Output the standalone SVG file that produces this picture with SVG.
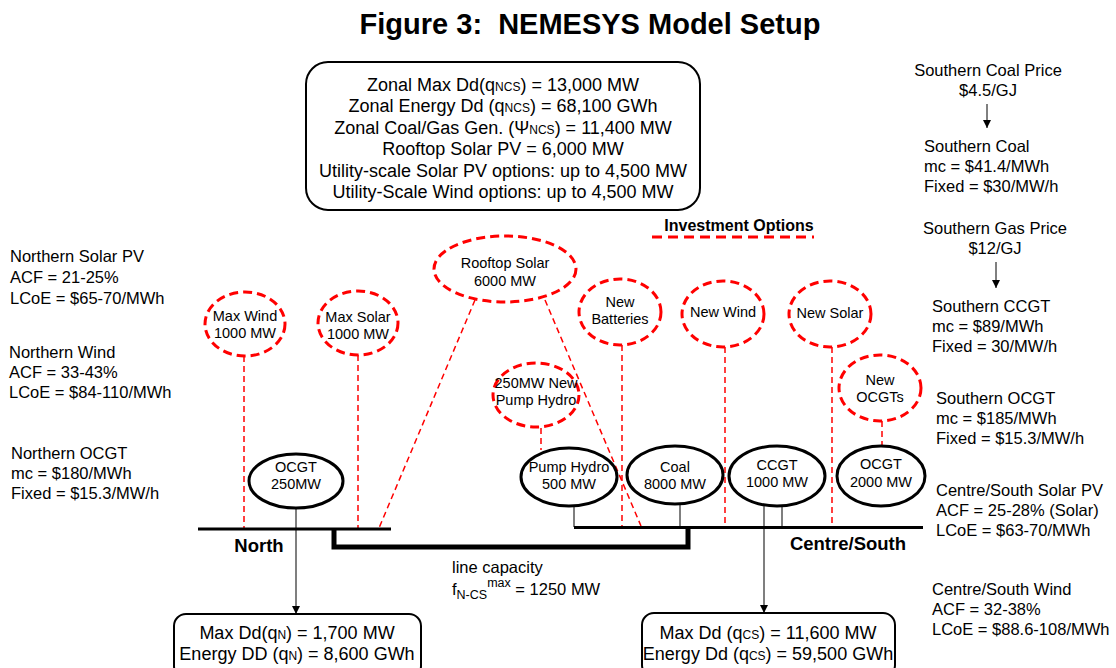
<svg xmlns="http://www.w3.org/2000/svg" width="1116" height="668" viewBox="0 0 1116 668">
  <style>
    text { font-family: "Liberation Sans", Arial, Helvetica, sans-serif; fill: #000; }
    .title { font-size: 29px; font-weight: bold; text-anchor: middle; }
    .side { font-size: 16.5px; }
    .sidec { font-size: 16.5px; text-anchor: middle; }
    .box { font-size: 18px; text-anchor: middle; }
    .lbl { font-size: 14.5px; text-anchor: middle; }
    .zone { font-size: 18.5px; font-weight: bold; text-anchor: middle; }
    .inv { fill: #fff; stroke: #f00; stroke-width: 3; stroke-dasharray: 9 5; }
    .gen { fill: #fff; stroke: #000; stroke-width: 3; }
    .rd { fill: none; stroke: #f00; stroke-width: 1.5; stroke-dasharray: 6 4; }
    .stem { fill: none; stroke: #555; stroke-width: 1.5; }
    .bus { fill: none; stroke: #000; stroke-width: 3; }
    .link { fill: none; stroke: #000; stroke-width: 5; }
    .frame { fill: #fff; stroke: #000; stroke-width: 2; }
    .thin { fill: none; stroke: #000; stroke-width: 1; }
  </style>
  <defs>
    <marker id="ah" markerUnits="userSpaceOnUse" markerWidth="8" markerHeight="8" refX="8" refY="4" orient="auto">
      <path d="M0,0 L8,4 L0,8 z" fill="#000"/>
    </marker>
  </defs>

  <rect width="1116" height="668" fill="#fff"/>

  <text class="title" x="590" y="34">Figure 3:&#160; NEMESYS Model Setup</text>

  <!-- zonal summary -->
  <g id="zonal-summary">
    <rect class="frame" x="306" y="62" width="394" height="148" rx="22"/>
    <text class="box" x="503" y="90.5">Zonal Max Dd(q<tspan font-size="12">NCS</tspan>) = 13,000 MW</text>
    <text class="box" x="503" y="112">Zonal Energy Dd (q<tspan font-size="12">NCS</tspan>) = 68,100 GWh</text>
    <text class="box" x="503" y="133.5">Zonal Coal/Gas Gen. (Ψ<tspan font-size="12">NCS</tspan>) = 11,400 MW</text>
    <text class="box" x="503" y="155">Rooftop Solar PV = 6,000 MW</text>
    <text class="box" x="503" y="176.5">Utility-scale Solar PV options: up to 4,500 MW</text>
    <text class="box" x="503" y="198">Utility-Scale Wind options: up to 4,500 MW</text>
  </g>

  <!-- legend -->
  <g id="legend">
    <text x="739" y="231" font-size="16px" font-weight="bold" text-anchor="middle">Investment Options</text>
    <line x1="652" y1="237" x2="814" y2="237" stroke="#f00" stroke-width="3" stroke-dasharray="10 6"/>
  </g>

  <!-- cost notes, north -->
  <g id="north-notes">
    <text class="side" x="10" y="262">Northern Solar PV</text>
    <text class="side" x="10" y="283">ACF = 21-25%</text>
    <text class="side" x="10" y="304">LCoE = $65-70/MWh</text>
    <text class="side" x="9" y="358">Northern Wind</text>
    <text class="side" x="9" y="378">ACF = 33-43%</text>
    <text class="side" x="9" y="398">LCoE = $84-110/MWh</text>
    <text class="side" x="11" y="459">Northern OCGT</text>
    <text class="side" x="11" y="479">mc = $180/MWh</text>
    <text class="side" x="11" y="499">Fixed = $15.3/MW/h</text>
  </g>

  <!-- cost notes, south -->
  <g id="south-notes">
    <text class="sidec" x="988" y="76">Southern Coal Price</text>
    <text class="sidec" x="988" y="96">$4.5/GJ</text>
    <line class="thin" x1="987" y1="104" x2="987" y2="128" marker-end="url(#ah)"/>
    <text class="side" x="924" y="152">Southern Coal</text>
    <text class="side" x="924" y="172">mc = $41.4/MWh</text>
    <text class="side" x="924" y="192">Fixed = $30/MW/h</text>
    <text class="sidec" x="995" y="234">Southern Gas Price</text>
    <text class="sidec" x="995" y="254">$12/GJ</text>
    <line class="thin" x1="996" y1="262" x2="996" y2="288" marker-end="url(#ah)"/>
    <text class="side" x="932" y="312">Southern CCGT</text>
    <text class="side" x="932" y="332">mc = $89/MWh</text>
    <text class="side" x="932" y="352">Fixed = 30/MW/h</text>
    <text class="side" x="936" y="404">Southern OCGT</text>
    <text class="side" x="936" y="424">mc = $185/MWh</text>
    <text class="side" x="936" y="444">Fixed = $15.3/MW/h</text>
    <text class="side" x="936" y="496">Centre/South Solar PV</text>
    <text class="side" x="936" y="516">ACF = 25-28% (Solar)</text>
    <text class="side" x="936" y="536">LCoE = $63-70/MWh</text>
    <text class="side" x="932" y="595">Centre/South Wind</text>
    <text class="side" x="932" y="615">ACF = 32-38%</text>
    <text class="side" x="932" y="635">LCoE = $88.6-108/MWh</text>
  </g>

  <!-- connectors -->
  <g id="connectors">
    <!-- investment option links -->
    <line class="rd" x1="244" y1="356" x2="244" y2="528"/>
    <line class="rd" x1="358" y1="355" x2="358" y2="528"/>
    <line class="rd" x1="475" y1="300" x2="379" y2="528"/>
    <line class="rd" x1="545" y1="300" x2="641" y2="526"/>
    <line class="rd" x1="541" y1="428" x2="541" y2="450"/>
    <line class="rd" x1="622" y1="345" x2="622" y2="527"/>
    <line class="rd" x1="725" y1="347" x2="725" y2="527"/>
    <line class="rd" x1="832" y1="347" x2="832" y2="527"/>
    <line class="rd" x1="882" y1="421" x2="882" y2="447"/>
    <!-- generator links -->
    <line class="stem" x1="574" y1="505" x2="574" y2="527"/>
    <line class="stem" x1="680" y1="503" x2="680" y2="527"/>
    <line class="stem" x1="782" y1="505" x2="782" y2="527"/>
    <!-- demand arrows -->
    <line class="stem" x1="296" y1="507" x2="296" y2="614" marker-end="url(#ah)"/>
    <line class="stem" x1="764" y1="505" x2="764" y2="613" marker-end="url(#ah)"/>
    <!-- buses and interconnector -->
    <line class="bus" x1="198" y1="529" x2="391" y2="529"/>
    <line class="bus" x1="574" y1="527.5" x2="923" y2="527.5"/>
    <path class="link" d="M334,529 V547 H688 V528"/>
  </g>

  <g id="zone-north"><text class="zone" x="259" y="552">North</text></g>
  <g id="zone-south"><text class="zone" x="848" y="550">Centre/South</text></g>

  <g id="line-capacity">
    <text class="side" x="452" y="573">line capacity</text>
    <text class="side" x="452" y="595">f<tspan font-size="12.5" dy="4">N-CS</tspan><tspan font-size="12.5" dy="-12">max</tspan><tspan dy="8"> = 1250 MW</tspan></text>
  </g>

  <!-- investment option nodes -->
  <g id="max-wind">
    <ellipse class="inv" cx="245" cy="324" rx="40" ry="32"/>
    <text class="lbl" x="245" y="321">Max Wind</text>
    <text class="lbl" x="245" y="338">1000 MW</text>
  </g>
  <g id="max-solar">
    <ellipse class="inv" cx="358" cy="323" rx="40" ry="32"/>
    <text class="lbl" x="358" y="322">Max Solar</text>
    <text class="lbl" x="358" y="339">1000 MW</text>
  </g>
  <g id="rooftop-solar">
    <ellipse class="inv" cx="505" cy="269" rx="71" ry="33"/>
    <text class="lbl" x="505" y="268">Rooftop Solar</text>
    <text class="lbl" x="505" y="286">6000 MW</text>
  </g>
  <g id="new-pump-hydro">
    <ellipse class="inv" cx="536" cy="395" rx="43" ry="32"/>
    <text class="lbl" x="536" y="388">250MW New</text>
    <text class="lbl" x="536" y="405">Pump Hydro</text>
  </g>
  <g id="new-batteries">
    <ellipse class="inv" cx="620" cy="312" rx="41" ry="33"/>
    <text class="lbl" x="620" y="307">New</text>
    <text class="lbl" x="620" y="324">Batteries</text>
  </g>
  <g id="new-wind">
    <ellipse class="inv" cx="723" cy="314" rx="41" ry="33"/>
    <text class="lbl" x="723" y="317">New Wind</text>
  </g>
  <g id="new-solar">
    <ellipse class="inv" cx="830" cy="314" rx="41" ry="33"/>
    <text class="lbl" x="830" y="318">New Solar</text>
  </g>
  <g id="new-ocgts">
    <ellipse class="inv" cx="880" cy="388" rx="41" ry="33"/>
    <text class="lbl" x="880" y="385">New</text>
    <text class="lbl" x="880" y="402">OCGTs</text>
  </g>

  <!-- existing generators -->
  <g id="ocgt-north">
    <ellipse class="gen" cx="296" cy="481" rx="47" ry="27"/>
    <text class="lbl" x="296" y="472">OCGT</text>
    <text class="lbl" x="296" y="489">250MW</text>
  </g>
  <g id="pump-hydro">
    <ellipse class="gen" cx="569" cy="477" rx="48" ry="29"/>
    <text class="lbl" x="569" y="472">Pump Hydro</text>
    <text class="lbl" x="569" y="489">500 MW</text>
  </g>
  <g id="coal">
    <ellipse class="gen" cx="675" cy="475" rx="48" ry="29"/>
    <text class="lbl" x="675" y="472">Coal</text>
    <text class="lbl" x="675" y="489">8000 MW</text>
  </g>
  <g id="ccgt">
    <ellipse class="gen" cx="777" cy="476" rx="48" ry="30"/>
    <text class="lbl" x="777" y="470">CCGT</text>
    <text class="lbl" x="777" y="487">1000 MW</text>
  </g>
  <g id="ocgt-south">
    <ellipse class="gen" cx="881" cy="476" rx="44" ry="30"/>
    <text class="lbl" x="881" y="469">OCGT</text>
    <text class="lbl" x="881" y="487">2000 MW</text>
  </g>

  <!-- regional demand -->
  <g id="demand-north">
    <rect class="frame" x="174" y="614" width="247" height="64" rx="12"/>
    <text class="box" x="297" y="639">Max Dd(q<tspan font-size="12">N</tspan>) = 1,700 MW</text>
    <text class="box" x="297" y="660">Energy DD (q<tspan font-size="12">N</tspan>) = 8,600 GWh</text>
  </g>
  <g id="demand-south">
    <rect class="frame" x="642" y="613" width="253" height="64" rx="12"/>
    <text class="box" x="768" y="639">Max Dd (q<tspan font-size="12">CS</tspan>) = 11,600 MW</text>
    <text class="box" x="768" y="660">Energy Dd (q<tspan font-size="12">CS</tspan>) = 59,500 GWh</text>
  </g>
</svg>
